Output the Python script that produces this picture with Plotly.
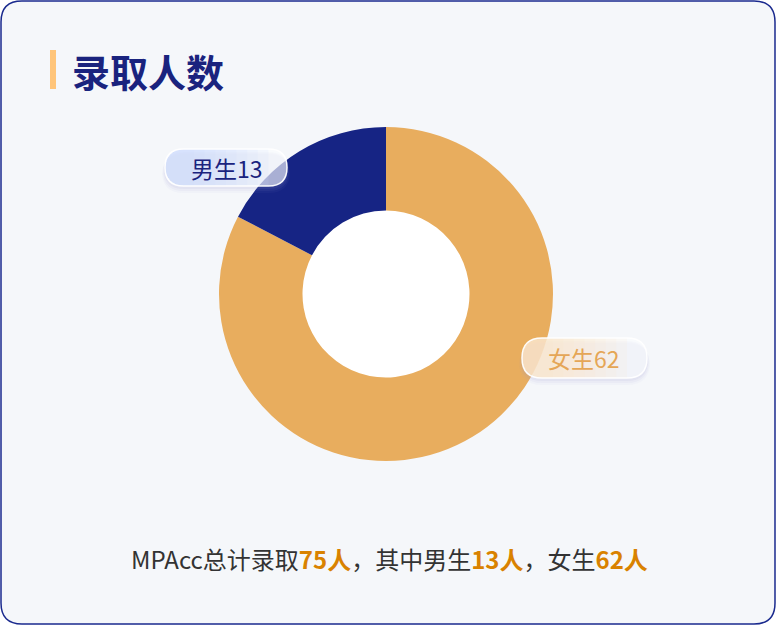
import plotly.graph_objects as go

# ---- data ----
categories = ["女生", "男生"]
values = [62, 13]
total = sum(values)
slice_colors = ["#E8AD5E", "#162484"]
title_text = "录取人数"

W, H = 776, 626
FONT = "Noto Sans CJK SC"

def px(x):
    return x / W

def py(y):
    return 1 - y / H

def P(x, y):
    return f"{px(x):.5f},{py(y):.5f}"

def rrect_path(x0, y0, x1, y1, r):
    return (f"M{P(x0 + r, y0)} L{P(x1 - r, y0)} Q{P(x1, y0)} {P(x1, y0 + r)} "
            f"L{P(x1, y1 - r)} Q{P(x1, y1)} {P(x1 - r, y1)} L{P(x0 + r, y1)} "
            f"Q{P(x0, y1)} {P(x0, y1 - r)} L{P(x0, y0 + r)} Q{P(x0, y0)} {P(x0 + r, y0)} Z")

def left_part_path(x0, y0, y1, xk):
    r = (y1 - y0) / 2
    k = 0.5523
    cy = (y0 + y1) / 2
    return (f"M{P(xk, y0)} L{P(x0 + r, y0)} "
            f"C{P(x0 + r - k * r, y0)} {P(x0, cy - k * r)} {P(x0, cy)} "
            f"C{P(x0, cy + k * r)} {P(x0 + r - k * r, y1)} {P(x0 + r, y1)} "
            f"L{P(xk, y1)} Z")

shapes = []
# card
shapes.append(dict(type="path", path=rrect_path(1, 1, 775, 624, 21), xref="paper", yref="paper",
                   fillcolor="#F5F7FA", line=dict(color="#1A2A8E", width=1.5), layer="below"))
# title accent bar
shapes.append(dict(type="rect", xref="paper", yref="paper", x0=px(50), x1=px(56), y0=py(89), y1=py(50),
                   fillcolor="#FFC57A", line=dict(width=0), layer="below"))
# donut hole (white)
cx, cy, R, r_in = 386, 294, 167, 84
shapes.append(dict(type="circle", xref="paper", yref="paper", x0=px(cx - r_in), x1=px(cx + r_in),
                   y0=py(cy + r_in), y1=py(cy - r_in), fillcolor="#FFFFFF", line=dict(width=0), layer="below"))

def pill(x0, y0, x1, y1, tint, alpha):
    r = (y1 - y0) / 2
    out = []
    for d, a in [(6, 0.05), (4, 0.07), (2, 0.09)]:
        out.append(dict(type="path", path=rrect_path(x0 - d / 2, y0 + 2 + d / 2, x1 + d / 2, y1 + d + 1, r + d / 2),
                        xref="paper", yref="paper", fillcolor=f"rgba(150,160,210,{a})",
                        line=dict(width=0), layer="above"))
    out.append(dict(type="path", path=rrect_path(x0, y0, x1, y1, r), xref="paper", yref="paper",
                    fillcolor="rgba(252,253,255,0.6)", line=dict(width=0), layer="above"))
    n = 8
    for i in range(1, n + 1):
        xk = x0 + r + (x1 - x0 - 2 * r) * i / n
        out.append(dict(type="path", path=left_part_path(x0, y0, y1, xk), xref="paper", yref="paper",
                        fillcolor=f"rgba({tint},{alpha})", line=dict(width=0), layer="above"))
    out.append(dict(type="path", path=rrect_path(x0, y0, x1, y1, r), xref="paper", yref="paper",
                    fillcolor="rgba(0,0,0,0)", line=dict(color="rgba(255,255,255,0.95)", width=1.5),
                    layer="above"))
    return out

shapes += pill(165, 149, 287, 186, "200,216,252", 0.13)
shapes += pill(522, 338, 647, 378, "253,228,185", 0.10)

fig = go.Figure()
fig.add_trace(go.Pie(
    labels=categories, values=values, hole=0.5, sort=False, direction="clockwise", rotation=0,
    marker=dict(colors=slice_colors, line=dict(width=0)), textinfo="none", hoverinfo="label+value",
    showlegend=False,
    domain=dict(x=[px(cx - R), px(cx + R)], y=[py(cy + R), py(cy - R)]),
))

annotations = [
    dict(text=f"<b>{title_text}</b>", x=px(70), y=py(70), xref="paper", yref="paper", xanchor="left",
         yanchor="middle", showarrow=False, font=dict(family=FONT, size=38, color="#1A237E")),
    dict(text=f"{categories[1]}{values[1]}", x=px(227), y=py(167.5), xref="paper", yref="paper",
         xanchor="center", yanchor="middle", showarrow=False, font=dict(family=FONT, size=23, color="#1A237E")),
    dict(text=f"{categories[0]}{values[0]}", x=px(584), y=py(358), xref="paper", yref="paper",
         xanchor="center", yanchor="middle", showarrow=False, font=dict(family=FONT, size=23, color="#E5A656")),
]
hl = "color:#D98200"
summary = (f"MPAcc总计录取<b><span style='{hl}'>{total}人</span></b>，其中{categories[1]}"
           f"<b><span style='{hl}'>{values[1]}人</span></b>，{categories[0]}"
           f"<b><span style='{hl}'>{values[0]}人</span></b>")
annotations.append(dict(text=summary, x=px(389), y=py(558), xref="paper", yref="paper", xanchor="center",
                        yanchor="middle", showarrow=False, font=dict(family=FONT, size=24, color="#333333")))

fig.update_layout(
    width=W, height=H, margin=dict(l=0, r=0, t=0, b=0),
    paper_bgcolor="#FFFFFF", plot_bgcolor="rgba(0,0,0,0)",
    shapes=shapes, annotations=annotations,
)
fig.write_html("out.html", config={"displayModeBar": False},
               post_script="document.body.style.margin='0';document.body.style.overflow='hidden';")
